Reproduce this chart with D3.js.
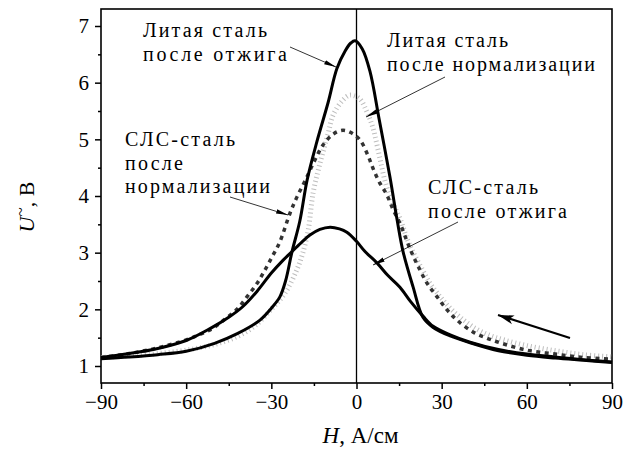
<!DOCTYPE html>
<html><head><meta charset="utf-8">
<script src="https://cdn.jsdelivr.net/npm/d3@7"></script>
<style>
html,body{margin:0;padding:0;background:#fff;}
</style></head>
<body><svg id="chart" width="624" height="453"></svg>
<script>
// ---- data ----
const xTicks = [-90, -60, -30, 0, 30, 60, 90];
const xMinorTicks = [-75, -45, -15, 15, 45, 75];
const yTicks = [1, 2, 3, 4, 5, 6, 7];
const yMinorTicks = [1.5, 2.5, 3.5, 4.5, 5.5, 6.5];

// Литая сталь после отжига
const castAnnealH = [-90,-80,-70,-60,-50,-42,-34,-30,-27,-25,-22.7,-20,-17.4,-14,-10,-6.9,-4,-2,-0.5,2,4.75,8,11.8,14.3,16.4,19.9,23.4,27,33,40,50,60,70,80,90];
const castAnnealU = [1.13,1.16,1.2,1.26,1.4,1.57,1.81,2.02,2.22,2.5,3.02,3.55,4.28,4.95,5.65,6.25,6.56,6.7,6.74,6.6,6.2,5.35,4.33,3.58,3.02,2.4,1.86,1.68,1.53,1.41,1.27,1.19,1.14,1.1,1.06];

// Литая сталь после нормализации
const castNormH = [-90,-80,-70,-60,-50,-42,-36,-30,-25,-21,-19,-17,-15.3,-13,-10,-8.3,-5,-2.3,1,3.7,5.8,8.3,10.5,13,15.5,17.8,20,23,26,29.5,33,37,42,47,52,60,70,80,90];
const castNormU = [1.15,1.18,1.22,1.28,1.38,1.52,1.7,2.0,2.3,2.7,2.98,3.4,4.05,4.55,5.1,5.42,5.68,5.78,5.72,5.48,5.2,4.65,4.18,3.85,3.58,3.25,3.0,2.72,2.45,2.22,2.02,1.84,1.66,1.54,1.46,1.36,1.27,1.2,1.16];

// СЛС-сталь после нормализации
const slmNormH = [-90,-80,-70,-60,-55,-50.5,-46.3,-42.1,-38.6,-35,-32.3,-29.8,-27,-23.4,-21,-18,-15,-11.8,-8,-4.8,-2,1.2,4,5.8,8,10.7,13,15.3,19,22.4,25,28.4,31.9,35.4,41,46,50.5,60,70,80,90];
const slmNormU = [1.15,1.22,1.32,1.46,1.56,1.67,1.83,2.0,2.22,2.46,2.69,2.92,3.19,3.7,3.98,4.28,4.6,4.9,5.1,5.16,5.12,4.99,4.72,4.49,4.25,4.02,3.75,3.52,3.05,2.69,2.45,2.22,1.99,1.81,1.6,1.49,1.41,1.28,1.21,1.15,1.12];

// СЛС-сталь после отжига
const slmAnnealH = [-90,-80,-70,-60,-51.6,-45,-40,-35,-30,-26,-22.7,-19,-16.4,-12.9,-9.3,-6,-3.4,0,3,7.2,11,15.3,19,23.4,27,33,40,50,60,70,80,90];
const slmAnnealU = [1.15,1.22,1.31,1.45,1.66,1.86,2.05,2.32,2.64,2.86,3.02,3.2,3.31,3.41,3.45,3.42,3.36,3.2,3.02,2.82,2.6,2.39,2.14,1.88,1.7,1.55,1.42,1.29,1.21,1.16,1.11,1.07];

// ---- font detection (pick first installed serif face) ----
const W = 624, H = 453;
const svg = d3.select("#chart");
function pickFont(cands) {
  const probe = svg.append("text").attr("font-size", 40).text("Литая сталь 0123 HWmi");
  const widthOf = f => { probe.attr("font-family", f); return probe.node().getComputedTextLength(); };
  const baseMono = widthOf("monospace"), baseSans = widthOf("sans-serif");
  let found = null;
  for (const c of cands) {
    const q = `"${c}"`;
    if (Math.abs(widthOf(q + ", monospace") - baseMono) > 0.5 || Math.abs(widthOf(q + ", sans-serif") - baseSans) > 0.5) { found = c; break; }
  }
  probe.remove();
  return found;
}
const serifFace = pickFont(["Liberation Serif", "Times New Roman", "Tinos", "DejaVu Serif", "Noto Serif", "FreeSerif", "Nimbus Roman", "Times"]);
const FONT = serifFace ? `"${serifFace}", serif` : "serif";
svg.style("font-family", FONT);

const m = {left: 101, top: 9, right: 12, bottom: 70};
const x = d3.scaleLinear().domain([-90, 90]).range([m.left, W - m.right]);
const y = d3.scaleLinear().domain([0.7, 7.3]).range([H - m.bottom, m.top]);

const defs = svg.append("defs");
defs.append("marker").attr("id","ah").attr("viewBox","0 0 12 6").attr("refX",12).attr("refY",3)
  .attr("markerWidth",12).attr("markerHeight",6).attr("markerUnits","userSpaceOnUse").attr("orient","auto")
  .append("path").attr("d","M0,0.8 L12,3 L0,5.2 Z").attr("fill","#000");
defs.append("marker").attr("id","ahBig").attr("viewBox","0 0 16 10").attr("refX",16).attr("refY",5)
  .attr("markerWidth",16).attr("markerHeight",10).attr("markerUnits","userSpaceOnUse").attr("orient","auto")
  .append("path").attr("d","M0,0.5 L16,5 L0,9.5 L4,5 Z").attr("fill","#000");

// axes
const fontTick = 21;
svg.append("g").attr("transform", `translate(0,${H - m.bottom})`)
  .call(d3.axisBottom(x).tickValues(xTicks).tickSize(6).tickPadding(5).tickFormat(d3.format("d")));
svg.append("g").attr("transform", `translate(0,${H - m.bottom})`)
  .call(d3.axisBottom(x).tickValues(xMinorTicks).tickSize(3).tickFormat(""));
svg.append("g").attr("transform", `translate(${m.left},0)`)
  .call(d3.axisLeft(y).tickValues(yTicks).tickSize(6).tickPadding(6).tickFormat(d3.format("d")));
svg.append("g").attr("transform", `translate(${m.left},0)`)
  .call(d3.axisLeft(y).tickValues(yMinorTicks).tickSize(3).tickFormat(""));
svg.selectAll("g").attr("font-family", null);
svg.selectAll(".domain").remove();
svg.selectAll(".tick line").attr("stroke","#000").attr("stroke-width",1.5);
svg.selectAll(".tick text").attr("font-family", FONT).attr("font-size", fontTick).attr("fill","#000");

// frame
svg.append("rect").attr("x", m.left).attr("y", m.top)
  .attr("width", W - m.left - m.right).attr("height", H - m.top - m.bottom)
  .attr("fill","none").attr("stroke","#000").attr("stroke-width",1.6);

// zero line
svg.append("line").attr("x1", x(0)).attr("x2", x(0)).attr("y1", m.top).attr("y2", H - m.bottom)
  .attr("stroke","#000").attr("stroke-width",1.3);

const line = d3.line().x(d => x(d[0])).y(d => y(d[1])).curve(d3.curveCatmullRom.alpha(0.5));
const zip = (a, b) => a.map((v, i) => [v, b[i]]);

svg.append("path").datum(zip(castNormH, castNormU)).attr("d", line)
  .attr("fill","none").attr("stroke","#bdbdbd").attr("stroke-width",5).attr("stroke-dasharray","1,3");
svg.append("path").datum(zip(slmNormH, slmNormU)).attr("d", line)
  .attr("fill","none").attr("stroke","#333").attr("stroke-width",3.5).attr("stroke-dasharray","4,4.5");
svg.append("path").datum(zip(slmAnnealH, slmAnnealU)).attr("d", line)
  .attr("fill","none").attr("stroke","#000").attr("stroke-width",3);
svg.append("path").datum(zip(castAnnealH, castAnnealU)).attr("d", line)
  .attr("fill","none").attr("stroke","#000").attr("stroke-width",3);

// annotations (each line its own text, stretched to the reference width)
const fontLab = 20;
function label(lines, widths, x0, y0, dy) {
  lines.forEach((s, i) => svg.append("text").attr("font-family", FONT).attr("font-size", fontLab)
    .attr("x", x0).attr("y", y0 + i * dy)
    .attr("textLength", widths[i]).attr("lengthAdjust", "spacing").text(s));
}
label(["Литая сталь", "после отжига"], [124, 144], 143, 37, 24);
label(["Литая сталь", "после нормализации"], [121, 208], 387, 47, 24);
label(["СЛС-сталь", "после", "нормализации"], [110, 58, 145], 125, 146, 23.5);
label(["СЛС-сталь", "после отжига"], [110, 139], 428, 194, 23.5);

function arrow(x1, y1, x2, y2, big) {
  svg.append("line").attr("x1", x1).attr("y1", y1).attr("x2", x2).attr("y2", y2)
    .attr("stroke","#000").attr("stroke-width", big ? 2.2 : 0.8)
    .attr("marker-end", big ? "url(#ahBig)" : "url(#ah)");
}
arrow(290, 47, 336, 67);
arrow(445, 77, 366, 117);
arrow(230, 197, 288, 215);
arrow(458, 222, 373, 265);
arrow(570, 338, 498, 315, true);

// axis titles
const yt = svg.append("text").attr("transform", "translate(34,207) rotate(-90)")
  .attr("text-anchor","middle").attr("font-family", FONT).attr("font-size", 22);
yt.append("tspan").attr("font-style","italic").text("U");
yt.append("tspan").attr("dy", -8).attr("font-size", 17).text("~");
yt.append("tspan").attr("dy", 8).text(", В");

const xt = svg.append("text").attr("x", x(0) + 4).attr("y", 443).attr("text-anchor","middle")
  .attr("font-family", FONT).attr("font-size", 23);
xt.append("tspan").attr("font-style","italic").text("H");
xt.append("tspan").text(", А/см");
</script></body></html>
